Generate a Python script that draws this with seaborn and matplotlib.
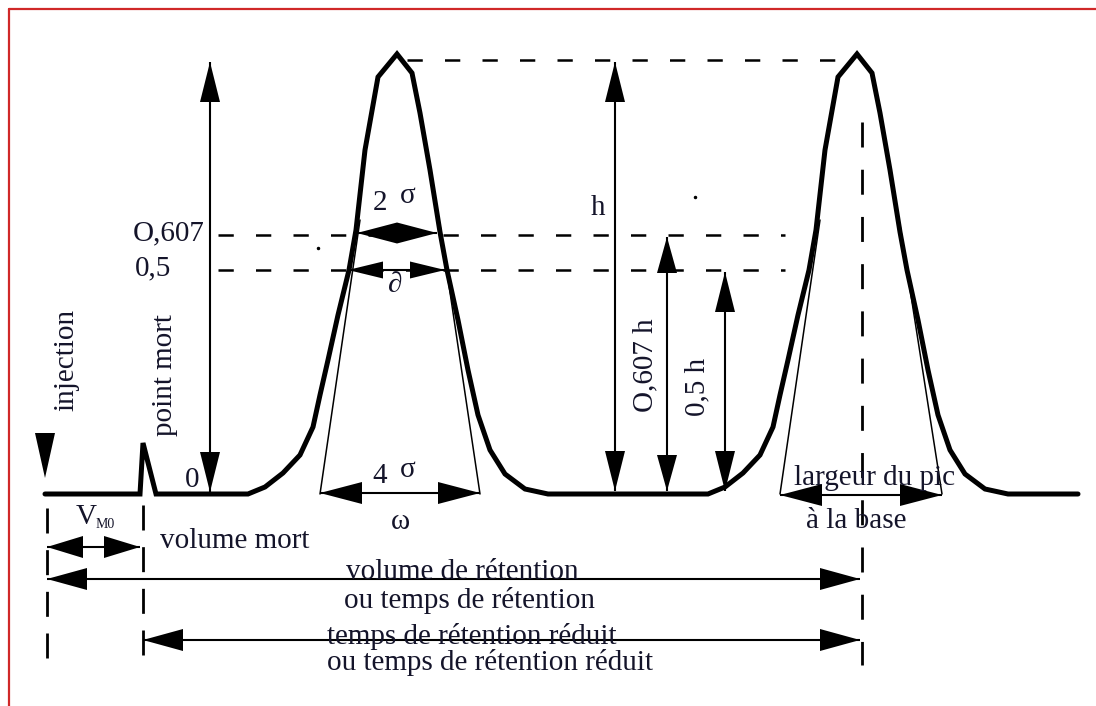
import numpy as np
import matplotlib
matplotlib.use("Agg")
import matplotlib.pyplot as plt
import seaborn as sns

sns.set_theme(style="white")
plt.rcParams['lines.scale_dashes'] = False
SERIF = ['Liberation Serif', 'DejaVu Serif']
plt.rcParams['font.family'] = SERIF

# ---- chromatogram trace (pixel-like units, y grows downward) ----
trace_x = [45, 140, 143, 156, 248, 265, 283, 300, 313, 320, 328, 338, 349, 356, 365, 378,
           397, 412, 420, 430, 440, 447, 458, 468, 478, 490, 505, 525, 548,
           708, 725, 743, 760, 773, 780, 788, 798, 809, 816, 825, 838,
           857, 872, 880, 890, 900, 907, 918, 928, 938, 950, 965, 985, 1008, 1078]
trace_y = [494, 494, 443, 494, 494, 487, 473, 455, 427, 395, 360, 315, 270, 230, 150, 77,
           54, 73, 113, 170, 232, 270, 320, 370, 415, 450, 474, 489, 494,
           494, 487, 473, 455, 427, 395, 360, 315, 270, 230, 150, 77,
           54, 73, 113, 170, 232, 270, 320, 370, 415, 450, 474, 489, 494, 494]

baseline_y = 494
peak_top_y = 60
level_607_y = 235
level_05_y = 270
level_labels = ["O,607", "0,5"]

TXT = '#14142a'

fig = plt.figure(figsize=(10.96, 7.06), dpi=100)
ax = fig.add_axes([0, 0, 1, 1])
ax.set_xlim(0, 1096)
ax.set_ylim(706, 0)
ax.axis('off')

sns.lineplot(x=trace_x, y=trace_y, sort=False, estimator=None, ax=ax,
             color='black', lw=3.6)
for ln in ax.lines:
    ln.set_solid_joinstyle('miter')


def arrow(x0, y0, x1, y1, hl=40, hw=20, heads=(True, True), lw=1.5):
    ax.plot([x0, x1], [y0, y1], color='black', lw=lw, solid_capstyle='butt')
    d = np.array([x1 - x0, y1 - y0], float)
    d /= np.hypot(*d)
    n = np.array([-d[1], d[0]])
    for tip, sgn, on in (((x1, y1), 1, heads[1]), ((x0, y0), -1, heads[0])):
        if not on:
            continue
        tip = np.array(tip, float)
        base = tip - sgn * d * hl
        pts = np.array([tip, base + n * hw / 2, base - n * hw / 2])
        ax.fill(pts[:, 0], pts[:, 1], color='black', lw=0)


def dashed(xs, ys, on=11, off=16, lw=1.8):
    ax.plot(xs, ys, color='black', lw=lw, linestyle=(0, (on, off)), dash_capstyle='butt')


def txt(x, y, s, size=21, rot=0, ha='center'):
    ax.text(x, y, s, fontsize=size, rotation=rot, ha=ha, va='center', color=TXT,
            family=SERIF)

# dashed reference lines
dashed([407, 840], [peak_top_y, peak_top_y])
dashed([218, 785], [level_607_y, level_607_y])
dashed([218, 785], [level_05_y, level_05_y])
dashed([862, 862], [122, 665], on=18, off=16, lw=2.0)
dashed([47, 47], [508, 662], on=18, off=12, lw=2.0)
dashed([143, 143], [505, 670], on=18, off=12, lw=2.0)

# tangent lines
for (xa, ya, xb, yb) in [(320, 494, 360, 220), (480, 494, 440, 225),
                         (780, 494, 820, 220), (942, 494, 900, 225)]:
    ax.plot([xa, xb], [ya, yb], color='black', lw=1.1)

# arrows
arrow(210, 62, 210, 492)
arrow(615, 62, 615, 491)
arrow(667, 237, 667, 491, hl=36)
arrow(725, 272, 725, 491, hl=40)
arrow(357, 233, 437, 233, hl=40, hw=21)
arrow(348, 270, 445, 270, hl=35, hw=17)
arrow(320, 493, 480, 493, hl=42, hw=22)
arrow(780, 495, 942, 495, hl=42, hw=22)
arrow(47, 547, 140, 547, hl=36, hw=22)
arrow(47, 579, 860, 579, hl=40, hw=22)
arrow(143, 640, 860, 640, hl=40, hw=22)
# injection arrowhead
ax.fill([45, 35, 55], [478, 433, 433], color='black', lw=0)

# texts
txt(133, level_607_y - 2, level_labels[0], ha='left')
txt(135, level_05_y - 2, level_labels[1], ha='left')
txt(380, 203, "2")
txt(408, 196, "σ")
txt(395, 285, "∂")
txt(380, 476, "4")
txt(408, 470, "σ")
txt(400, 522, "ω")
txt(192, 480, "0")
txt(598, 208, "h")
txt(645, 365, "O,607 h", rot=90)
txt(697, 387, "0,5 h", rot=90)
txt(66, 360, "injection", rot=90)
txt(165, 375, "point mort", rot=90)
txt(875, 478, "largeur du pic")
txt(856, 521, "à la base")
txt(160, 541, "volume mort", ha='left')
txt(86, 517, "V")
txt(105, 524, "M0", size=10)
txt(462, 572, "volume de rétention")
txt(470, 601, "ou temps de rétention")
txt(472, 636, "temps de rétention réduit")
txt(490, 662, "ou temps de rétention réduit")

# stray dots
ax.plot([318, 695], [248, 197], 'o', color='black', ms=1.5)

# red frame
ax.plot([9, 1096], [9, 9], color='#d02828', lw=1.6)
ax.plot([9, 9], [9, 706], color='#d02828', lw=1.6)

fig.savefig('out.png', dpi=100)
